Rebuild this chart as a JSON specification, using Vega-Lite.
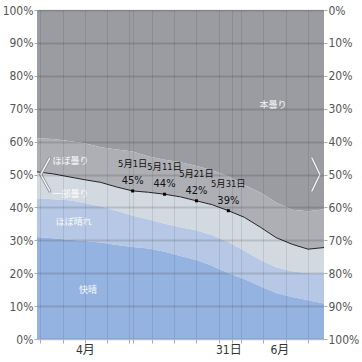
{
  "$schema": "https://vega.github.io/schema/vega-lite/v6.json",
  "width": 287,
  "height": 329,
  "autosize": {"type": "none"},
  "padding": {"left": 37, "top": 10, "right": 38, "bottom": 23},
  "background": "white",
  "config": {
    "view": {"stroke": null},
    "font": "Liberation Sans Narrow, DejaVu Sans Condensed, Noto Sans CJK JP, sans-serif"
  },
  "datasets": {
    "pts": [
      {"date": "2023-05-01T00:00:00", "v": 45, "day": "5月1日", "pct": "45%"},
      {"date": "2023-05-11T00:00:00", "v": 44, "day": "5月11日", "pct": "44%"},
      {"date": "2023-05-21T00:00:00", "v": 42, "day": "5月21日", "pct": "42%"},
      {"date": "2023-05-31T00:00:00", "v": 39, "day": "5月31日", "pct": "39%"}
    ],
    "chev": [
      {"g": "L", "i": 0, "date": "2023-04-05T00:00:00", "v": 55},
      {"g": "L", "i": 1, "date": "2023-04-02T04:00:00", "v": 50},
      {"g": "L", "i": 2, "date": "2023-04-05T00:00:00", "v": 45},
      {"g": "R", "i": 0, "date": "2023-06-26T05:00:00", "v": 55},
      {"g": "R", "i": 1, "date": "2023-06-28T17:00:00", "v": 50},
      {"g": "R", "i": 2, "date": "2023-06-26T05:00:00", "v": 45}
    ]
  },
  "data": {
    "values": [
      {"date": "2023-04-01T00:00:00", "c1": 31, "c2": 42.8, "c3": 50.8, "c4": 61},
      {"date": "2023-04-06T00:00:00", "c1": 30.6, "c2": 42.5, "c3": 50.2, "c4": 60.8},
      {"date": "2023-04-11T00:00:00", "c1": 30.2, "c2": 42.2, "c3": 49.3, "c4": 60.2},
      {"date": "2023-04-16T00:00:00", "c1": 29.8, "c2": 41.3, "c3": 48.4, "c4": 59.5},
      {"date": "2023-04-21T00:00:00", "c1": 29.3, "c2": 40.3, "c3": 47.6, "c4": 58.3},
      {"date": "2023-04-26T00:00:00", "c1": 28.6, "c2": 39, "c3": 46.2, "c4": 57.6},
      {"date": "2023-05-01T00:00:00", "c1": 28, "c2": 37.5, "c3": 45, "c4": 57},
      {"date": "2023-05-06T00:00:00", "c1": 27.5, "c2": 36.3, "c3": 44.6, "c4": 55.5},
      {"date": "2023-05-11T00:00:00", "c1": 26.5, "c2": 35, "c3": 44, "c4": 54.5},
      {"date": "2023-05-16T00:00:00", "c1": 25.2, "c2": 34, "c3": 43.2, "c4": 53.7},
      {"date": "2023-05-21T00:00:00", "c1": 24, "c2": 33, "c3": 42, "c4": 52.6},
      {"date": "2023-05-26T00:00:00", "c1": 22.2, "c2": 31.5, "c3": 40.8, "c4": 51.3},
      {"date": "2023-05-31T00:00:00", "c1": 20, "c2": 29.5, "c3": 39, "c4": 49.5},
      {"date": "2023-06-05T00:00:00", "c1": 18.2, "c2": 26.8, "c3": 37, "c4": 46.8},
      {"date": "2023-06-10T00:00:00", "c1": 16, "c2": 24, "c3": 34, "c4": 44.5},
      {"date": "2023-06-15T00:00:00", "c1": 14, "c2": 21.8, "c3": 30.8, "c4": 41.5},
      {"date": "2023-06-20T00:00:00", "c1": 12.8, "c2": 20.6, "c3": 28.8, "c4": 39.3},
      {"date": "2023-06-25T00:00:00", "c1": 11.8, "c2": 20, "c3": 27.3, "c4": 38.8},
      {"date": "2023-06-30T00:00:00", "c1": 10.8, "c2": 20, "c3": 27.8, "c4": 39.4}
    ]
  },
  "layer": [
    {
      "mark": {"type": "area", "color": "#9a9ca1"},
      "encoding": {
        "x": {
          "field": "date", "type": "temporal",
          "scale": {"domain": [{"year": 2023, "month": 4, "date": 1}, {"year": 2023, "month": 6, "date": 30}]},
          "axis": {
            "orient": "bottom", "title": null, "labels": false, "grid": true, "gridColor": "#000", "gridOpacity": 0.09, "gridWidth": 1,
            "ticks": true, "tickSize": 4, "tickColor": "#aaa", "domain": true, "domainColor": "#bbb", "zindex": 1,
            "values": [
              {"year": 2023, "month": 4, "date": 2}, {"year": 2023, "month": 4, "date": 9},
              {"year": 2023, "month": 4, "date": 16}, {"year": 2023, "month": 4, "date": 23},
              {"year": 2023, "month": 4, "date": 30}, {"year": 2023, "month": 5, "date": 1},
              {"year": 2023, "month": 5, "date": 7}, {"year": 2023, "month": 5, "date": 14},
              {"year": 2023, "month": 5, "date": 21}, {"year": 2023, "month": 5, "date": 28},
              {"year": 2023, "month": 6, "date": 1}, {"year": 2023, "month": 6, "date": 4},
              {"year": 2023, "month": 6, "date": 11}, {"year": 2023, "month": 6, "date": 18},
              {"year": 2023, "month": 6, "date": 25}
            ]
          }
        },
        "y": {
          "field": "c4", "type": "quantitative",
          "scale": {"domain": [0, 100], "nice": false},
          "axis": {
            "orient": "left", "title": null, "values": [0, 10, 20, 30, 40, 50, 60, 70, 80, 90, 100],
            "labelExpr": "datum.value + '%'", "grid": true, "gridColor": "#000", "gridOpacity": 0.13, "gridWidth": 2,
            "ticks": true, "tickSize": 3, "tickColor": "#aaa", "domain": false, "labelPadding": 1,
            "labelFontSize": 12, "labelColor": "#555", "labelOverlap": false, "zindex": 1
          }
        },
        "y2": {"datum": 100}
      }
    },
    {
      "mark": {"type": "area", "color": "#adafb4"},
      "encoding": {
        "x": {"field": "date", "type": "temporal", "axis": null},
        "y": {"field": "c3", "type": "quantitative", "axis": null},
        "y2": {"field": "c4"}
      }
    },
    {
      "mark": {"type": "area", "color": "#d3d9e1"},
      "encoding": {
        "x": {"field": "date", "type": "temporal", "axis": null},
        "y": {"field": "c2", "type": "quantitative", "axis": null},
        "y2": {"field": "c3"}
      }
    },
    {
      "mark": {"type": "area", "color": "#b6c8e5"},
      "encoding": {
        "x": {"field": "date", "type": "temporal", "axis": null},
        "y": {"field": "c1", "type": "quantitative", "axis": null},
        "y2": {"field": "c2"}
      }
    },
    {
      "mark": {"type": "area", "color": "#95b3e1"},
      "encoding": {
        "x": {"field": "date", "type": "temporal", "axis": null},
        "y": {"field": "c1", "type": "quantitative", "axis": null},
        "y2": {"datum": 0}
      }
    },
    {
      "mark": {"type": "line", "color": "#222", "strokeWidth": 1},
      "encoding": {
        "x": {"field": "date", "type": "temporal", "axis": null},
        "y": {"field": "c3", "type": "quantitative", "axis": null}
      }
    },
    {
      "data": {"name": "pts"},
      "mark": {"type": "point", "shape": "square", "filled": true, "size": 9, "color": "#000", "opacity": 1},
      "encoding": {
        "x": {"field": "date", "type": "temporal", "axis": null},
        "y": {"field": "v", "type": "quantitative", "axis": null}
      }
    },
    {
      "data": {"name": "pts"},
      "mark": {"type": "text", "baseline": "bottom", "align": "center", "dy": -5, "fontSize": 11, "color": "#111"},
      "encoding": {
        "x": {"field": "date", "type": "temporal", "axis": null},
        "y": {"field": "v", "type": "quantitative", "axis": null},
        "text": {"field": "pct"}
      }
    },
    {
      "data": {"name": "pts"},
      "mark": {"type": "text", "baseline": "bottom", "align": "center", "dy": -22, "fontSize": 9.3, "color": "#111"},
      "encoding": {
        "x": {"field": "date", "type": "temporal", "axis": null},
        "y": {"field": "v", "type": "quantitative", "axis": null},
        "text": {"field": "day"}
      }
    },
    {
      "data": {
        "values": [
          {"date": "2023-06-14T00:00:00", "v": 71, "name": "本曇り"},
          {"date": "2023-04-11T12:00:00", "v": 54, "name": "ほぼ曇り"},
          {"date": "2023-04-11T12:00:00", "v": 44.2, "name": "一部曇り"},
          {"date": "2023-04-12T12:00:00", "v": 35.5, "name": "ほぼ晴れ"},
          {"date": "2023-04-17T00:00:00", "v": 14.8, "name": "快晴"}
        ]
      },
      "mark": {"type": "text", "align": "center", "baseline": "middle", "fontSize": 9, "color": "#ffffff", "opacity": 0.95},
      "encoding": {
        "x": {"field": "date", "type": "temporal", "axis": null},
        "y": {"field": "v", "type": "quantitative", "axis": null},
        "text": {"field": "name"}
      }
    },
    {
      "data": {"name": "chev"},
      "mark": {"type": "line", "color": "#8d8f94", "strokeWidth": 3, "strokeCap": "round", "strokeJoin": "miter"},
      "encoding": {
        "x": {"field": "date", "type": "temporal", "axis": null},
        "y": {"field": "v", "type": "quantitative", "axis": null},
        "detail": {"field": "g"},
        "order": {"field": "i"}
      }
    },
    {
      "data": {"name": "chev"},
      "mark": {"type": "line", "color": "#f4f4f4", "strokeWidth": 1.4, "strokeCap": "round", "strokeJoin": "miter"},
      "encoding": {
        "x": {"field": "date", "type": "temporal", "axis": null},
        "y": {"field": "v", "type": "quantitative", "axis": null},
        "detail": {"field": "g"},
        "order": {"field": "i"}
      }
    },
    {
      "mark": {"type": "rule", "opacity": 0},
      "encoding": {
        "x": {
          "field": "date", "type": "temporal",
          "axis": {
            "orient": "bottom", "title": null, "grid": false, "ticks": false, "domain": false, "labelPadding": 5,
            "labelFontSize": 12, "labelColor": "#333", "labelOverlap": false,
            "values": [{"year": 2023, "month": 4, "date": 16}, {"year": 2023, "month": 5, "date": 31}, {"year": 2023, "month": 6, "date": 16}],
            "labelExpr": "month(datum.value) == 3 ? '4月' : (month(datum.value) == 4 ? '31日' : '6月')"
          }
        },
        "y": {
          "field": "c3", "type": "quantitative",
          "axis": {
            "orient": "right", "title": null, "values": [0, 10, 20, 30, 40, 50, 60, 70, 80, 90, 100],
            "labelExpr": "(100 - datum.value) + '%'", "grid": false, "ticks": true, "tickSize": 3, "tickColor": "#aaa",
            "domain": false, "labelPadding": 1, "labelFontSize": 12, "labelColor": "#555", "labelOverlap": false
          }
        }
      }
    }
  ],
  "resolve": {"axis": {"x": "independent", "y": "independent"}}
}
